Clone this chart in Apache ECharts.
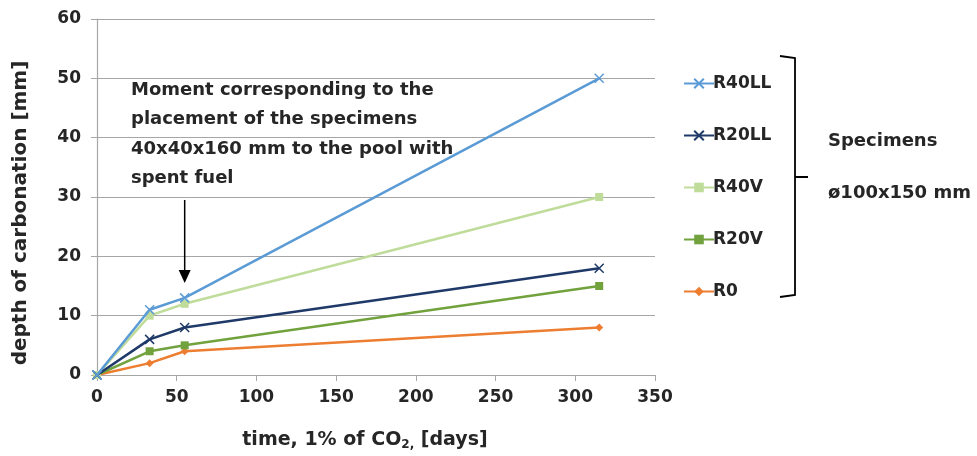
<!DOCTYPE html>
<html>
<head>
<meta charset="utf-8">
<script src="https://cdn.jsdelivr.net/npm/echarts@6/dist/echarts.min.js"></script>
<style>
  html, body { margin: 0; padding: 0; background: #fff; }
  #chart { width: 977px; height: 456px; }
</style>
</head>
<body>
<div id="chart"></div>
<script>
// Exposure time (days) at which carbonation depth was measured
const days = [0, 33, 55, 315];

// Depth of carbonation [mm] per mix
const r40ll = [0, 11, 13, 50];
const r20ll = [0, 6, 8, 18];
const r40v = [0, 10, 12, 30];
const r20v = [0, 4, 5, 15];
const r0 = [0, 2, 4, 8];

const seriesNames = ['R40LL', 'R20LL', 'R40V', 'R20V', 'R0'];
const seriesValues = [r40ll, r20ll, r40v, r20v, r0];
const seriesColors = ['#5b9bd5', '#1f3a68', '#c0dc9a', '#71a23e', '#ed7d31'];
const seriesSymbols = [
  'path://M0,0L10,10M10,0L0,10',
  'path://M0,0L10,10M10,0L0,10',
  'rect', 'rect', 'diamond'
];

// Day on which the small prisms went into the spent-fuel pool
const poolDay = 55;
const noteLines = [
  'Moment corresponding to the',
  'placement of the specimens',
  '40x40x160 mm to the pool with',
  'spent fuel'
];

const FONT = '"DejaVu Sans", "Open Sans", sans-serif';
const TXT = '#262626';

const chart = echarts.init(document.getElementById('chart'));

const series = seriesNames.map((name, i) => {
  const isCross = i < 2;
  return {
    name,
    type: 'line',
    data: days.map((d, k) => [d, seriesValues[i][k]]),
    symbol: seriesSymbols[i],
    symbolSize: isCross ? 9 : 8,
    showAllSymbol: true,
    lineStyle: { color: seriesColors[i], width: 2.5 },
    itemStyle: isCross
      ? { color: 'none', borderColor: seriesColors[i], borderWidth: 1.5 }
      : { color: seriesColors[i], borderWidth: 0 },
    emphasis: { disabled: true },
    z: 10 - i
  };
});

chart.setOption({
  animation: false,
  grid: { left: 97, right: 322, top: 19, bottom: 81 },
  xAxis: {
    type: 'value',
    min: 0, max: 350, interval: 50,
    axisLine: { lineStyle: { color: '#a6a6a6', width: 1.2 } },
    axisTick: { show: true, length: 6, lineStyle: { color: '#a6a6a6' } },
    splitLine: { show: false },
    axisLabel: { color: TXT, fontFamily: FONT, fontWeight: 'bold', fontSize: 17, margin: 14 },
    name: '{a|time, 1% of CO}{s|2,}{a| [days]}',
    nameLocation: 'middle',
    nameGap: 54,
    nameTextStyle: {
      padding: [0, 22, 0, 0],
      rich: {
        a: { color: TXT, fontFamily: FONT, fontWeight: 'bold', fontSize: 19 },
        s: { color: TXT, fontFamily: FONT, fontWeight: 'bold', fontSize: 12, padding: [10, 0, 0, 0] }
      }
    }
  },
  yAxis: {
    type: 'value',
    min: 0, max: 60, interval: 10,
    axisLine: { show: true, lineStyle: { color: '#a6a6a6', width: 1.2 } },
    axisTick: { show: true, length: 6, lineStyle: { color: '#a6a6a6' } },
    splitLine: { show: true, lineStyle: { color: '#a6a6a6', width: 1.2 } },
    axisLabel: { color: TXT, fontFamily: FONT, fontWeight: 'bold', fontSize: 17, margin: 16 },
    name: 'depth of carbonation [mm]',
    nameLocation: 'middle',
    nameGap: 66,
    nameTextStyle: {
      color: TXT, fontFamily: FONT, fontWeight: 'bold', fontSize: 20,
      padding: [0, 32, 0, 0]
    }
  },
  legend: {
    orient: 'vertical',
    left: 678,
    top: 70,
    itemGap: 35,
    itemWidth: 30,
    itemHeight: 12,
    textStyle: { color: TXT, fontFamily: FONT, fontWeight: 'bold', fontSize: 17, padding: [0, 0, 0, -6] },
    data: seriesNames
  },
  series
});

// Annotation: note text, arrow at the pool day, and the bracket grouping the cylinder specimens
const arrowStart = chart.convertToPixel({ gridIndex: 0 }, [poolDay, 29.5]);
const arrowEnd = chart.convertToPixel({ gridIndex: 0 }, [poolDay, 15.5]);
const ax = arrowStart[0];

const graphics = noteLines.map((t, i) => ({
  type: 'text',
  left: 131,
  top: 81 + i * 29.5,
  style: { text: t, fill: TXT, font: 'bold 18px ' + FONT }
}));

graphics.push({
  type: 'line',
  shape: { x1: ax, y1: arrowStart[1], x2: ax, y2: arrowEnd[1] - 10 },
  style: { stroke: '#000', lineWidth: 1.5 }
});
graphics.push({
  type: 'polygon',
  shape: { points: [[ax - 6, arrowEnd[1] - 13], [ax + 6, arrowEnd[1] - 13], [ax, arrowEnd[1]]] },
  style: { fill: '#000' }
});

// Bracket
graphics.push({
  type: 'polyline',
  shape: { points: [[780, 56], [795, 58], [795, 177], [808, 177], [795, 177], [795, 295], [780, 297]] },
  style: { stroke: '#000', lineWidth: 1.8, fill: null }
});
graphics.push({
  type: 'text', left: 828, top: 132,
  style: { text: 'Specimens', fill: TXT, font: 'bold 18px ' + FONT }
});
graphics.push({
  type: 'text', left: 828, top: 184,
  style: { text: 'ø100x150 mm', fill: TXT, font: 'bold 18px ' + FONT }
});

chart.setOption({ graphic: graphics });
</script>
</body>
</html>
